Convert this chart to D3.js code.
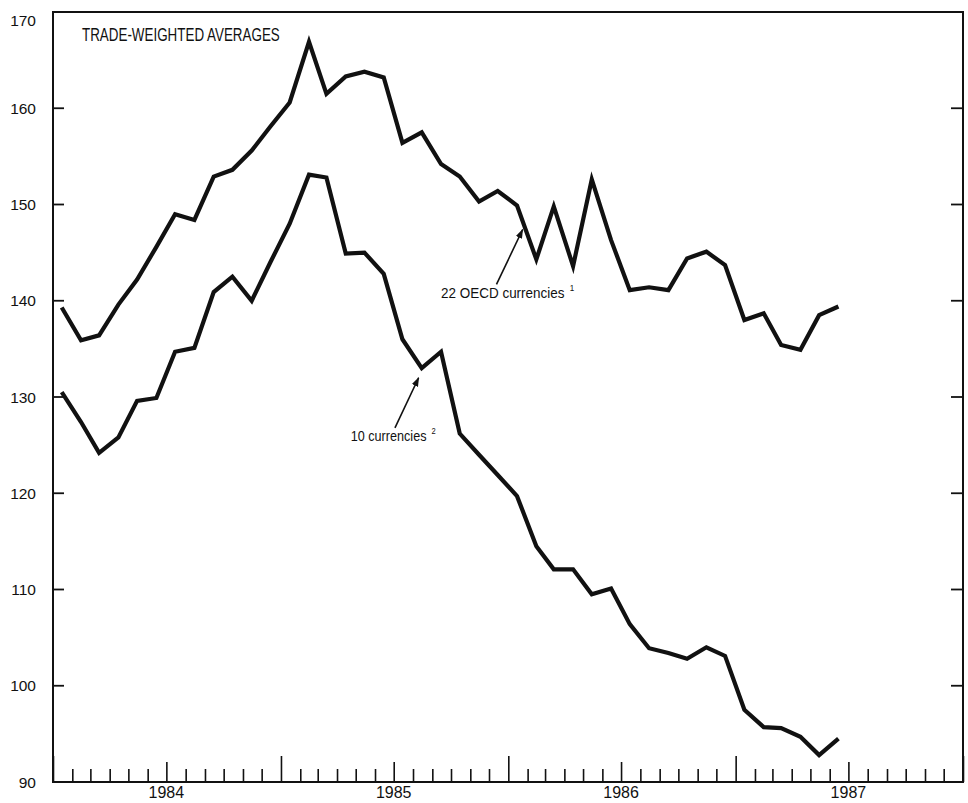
<!DOCTYPE html>
<html>
<head>
<meta charset="utf-8">
<script src="https://cdn.jsdelivr.net/npm/d3@7"></script>
<style>
  body { margin: 0; background: #fff; }
  text { font-family: "Liberation Sans", Arial, sans-serif; fill: #111; }
  .frame { fill: none; stroke: #111; stroke-width: 2; }
  .series { fill: none; stroke: #111; stroke-width: 4.2; stroke-linejoin: miter; }
</style>
</head>
<body>
<svg id="viz" width="968" height="803"></svg>
<script>
// monthly index values, Jan 1984 - Jun 1987
var months = d3.range(42).map(function(i){ return new Date(1984, i, 15) })

var oecd22 = [139.3, 135.9, 136.4, 139.6, 142.2, 145.6, 149.0, 148.4, 152.9, 153.6, 155.6, 158.1,
              160.6, 166.9, 161.5, 163.3, 163.8, 163.2, 156.4, 157.5, 154.2, 152.9, 150.3, 151.4,
              149.9, 144.3, 149.8, 143.6, 152.6, 146.3, 141.1, 141.4, 141.1, 144.4, 145.1, 143.7,
              138.0, 138.7, 135.4, 134.9, 138.5, 139.4]

var curr10 = [130.5, 127.4, 124.2, 125.8, 129.6, 129.9, 134.7, 135.1, 140.9, 142.5, 140.0, 144.0,
              148.0, 153.1, 152.8, 144.9, 145.0, 142.8, 136.0, 133.0, 134.7, 126.2, 124.0, 121.9,
              119.7, 114.5, 112.1, 112.1, 109.5, 110.1, 106.4, 103.9, 103.4, 102.8, 104.0, 103.1,
              97.5, 95.7, 95.6, 94.7, 92.8, 94.5]

var yTicks = [90, 100, 110, 120, 130, 140, 150, 160, 170]
var yearLabels = ["1984", "1985", "1986", "1987"]

// label text, label anchor (date, value), arrow tail, arrow head, superscript
var notes = [
  {text: "22 OECD currencies", sup: "1", at: [new Date(1985, 8, 15), 140.3],
   from: [new Date(1985, 11, 13), 141.7], to: [new Date(1986, 0, 24), 147.4], len: 128},
  {text: "10 currencies", sup: "2", at: [new Date(1985, 3, 23), 125.4],
   from: [new Date(1985, 6, 3), 126.8], to: [new Date(1985, 7, 10), 132.0], len: 80}
]

var svg = d3.select("#viz")
var pLeft = 53, pRight = 963, pTop = 12, pBottom = 782

var x = d3.scaleTime().domain([new Date(1984, 0, 1), new Date(1988, 0, 1)]).range([pLeft, pRight])
var y = d3.scaleLinear().domain([90, 170]).range([pBottom, pTop])

// squeeze a text node horizontally so it spans w pixels (the print face is condensed)
function condense(sel, px, py, w){
  var natural = sel.node().getComputedTextLength()
  sel.attr("transform", `translate(${px},${py}) scale(${w / natural},1)`)
}

svg.append("defs").append("marker")
  .attr("id", "head")
  .attr("viewBox", "0 0 10 10")
  .attr("refX", 9).attr("refY", 5)
  .attr("markerWidth", 6).attr("markerHeight", 6)
  .attr("orient", "auto")
  .append("path").attr("d", "M0,1.5L10,5L0,8.5Z").attr("fill", "#111")

// frame
svg.append("rect").attr("class", "frame")
  .attr("x", pLeft).attr("y", pTop)
  .attr("width", pRight - pLeft).attr("height", pBottom - pTop)

// y ticks, inward on both sides
yTicks.slice(1, -1).forEach(function(v){
  svg.append("line").attr("x1", pLeft).attr("x2", pLeft + 11).attr("y1", y(v)).attr("y2", y(v))
    .attr("stroke", "#111").attr("stroke-width", 1.8)
  svg.append("line").attr("x1", pRight).attr("x2", pRight - 12).attr("y1", y(v)).attr("y2", y(v))
    .attr("stroke", "#111").attr("stroke-width", 1.8)
})
yTicks.forEach(function(v){
  svg.append("text")
    .attr("x", 36).attr("y", Math.max(y(v), 20))
    .attr("dy", "0.36em")
    .attr("text-anchor", "end")
    .style("font-size", "15.5px")
    .text(v)
})

// month ticks along the bottom
var axis = d3.axisBottom(x)
  .ticks(d3.timeMonth.every(1))
  .tickFormat("")
  .tickSize(0)
var gx = svg.append("g").attr("transform", `translate(0,${pBottom})`).call(axis)
gx.select(".domain").remove()
gx.selectAll(".tick line")
  .attr("y2", function(d){
    if (d.getMonth() == 0) return -26
    if (d.getMonth() == 6) return -20
    return -13
  })
  .attr("stroke", "#111").attr("stroke-width", 1.6)

yearLabels.forEach(function(t){
  svg.append("text")
    .attr("x", x(new Date(+t, 6, 1)))
    .attr("y", 798)
    .attr("text-anchor", "middle")
    .style("font-size", "16px")
    .text(t)
})

// series
var line = d3.line()
  .x(function(d, i){ return x(months[i]) })
  .y(function(d){ return y(d) })

svg.append("path").attr("class", "series").attr("d", line(oecd22))
svg.append("path").attr("class", "series").attr("d", line(curr10))

// title
var title = svg.append("text")
  .style("font-size", "18.5px")
  .text("TRADE-WEIGHTED AVERAGES")
condense(title, 82, 41, 198)

// annotations
notes.forEach(function(n){
  svg.append("line")
    .attr("x1", x(n.from[0])).attr("y1", y(n.from[1]))
    .attr("x2", x(n.to[0])).attr("y2", y(n.to[1]))
    .attr("stroke", "#111").attr("stroke-width", 1.6)
    .attr("marker-end", "url(#head)")
  var t = svg.append("text").style("font-size", "15px")
  t.append("tspan").text(n.text)
  t.append("tspan").attr("dx", 6).attr("dy", -7).style("font-size", "9px").text(n.sup)
  condense(t, x(n.at[0]), y(n.at[1]), n.len)
})
</script>
</body>
</html>
